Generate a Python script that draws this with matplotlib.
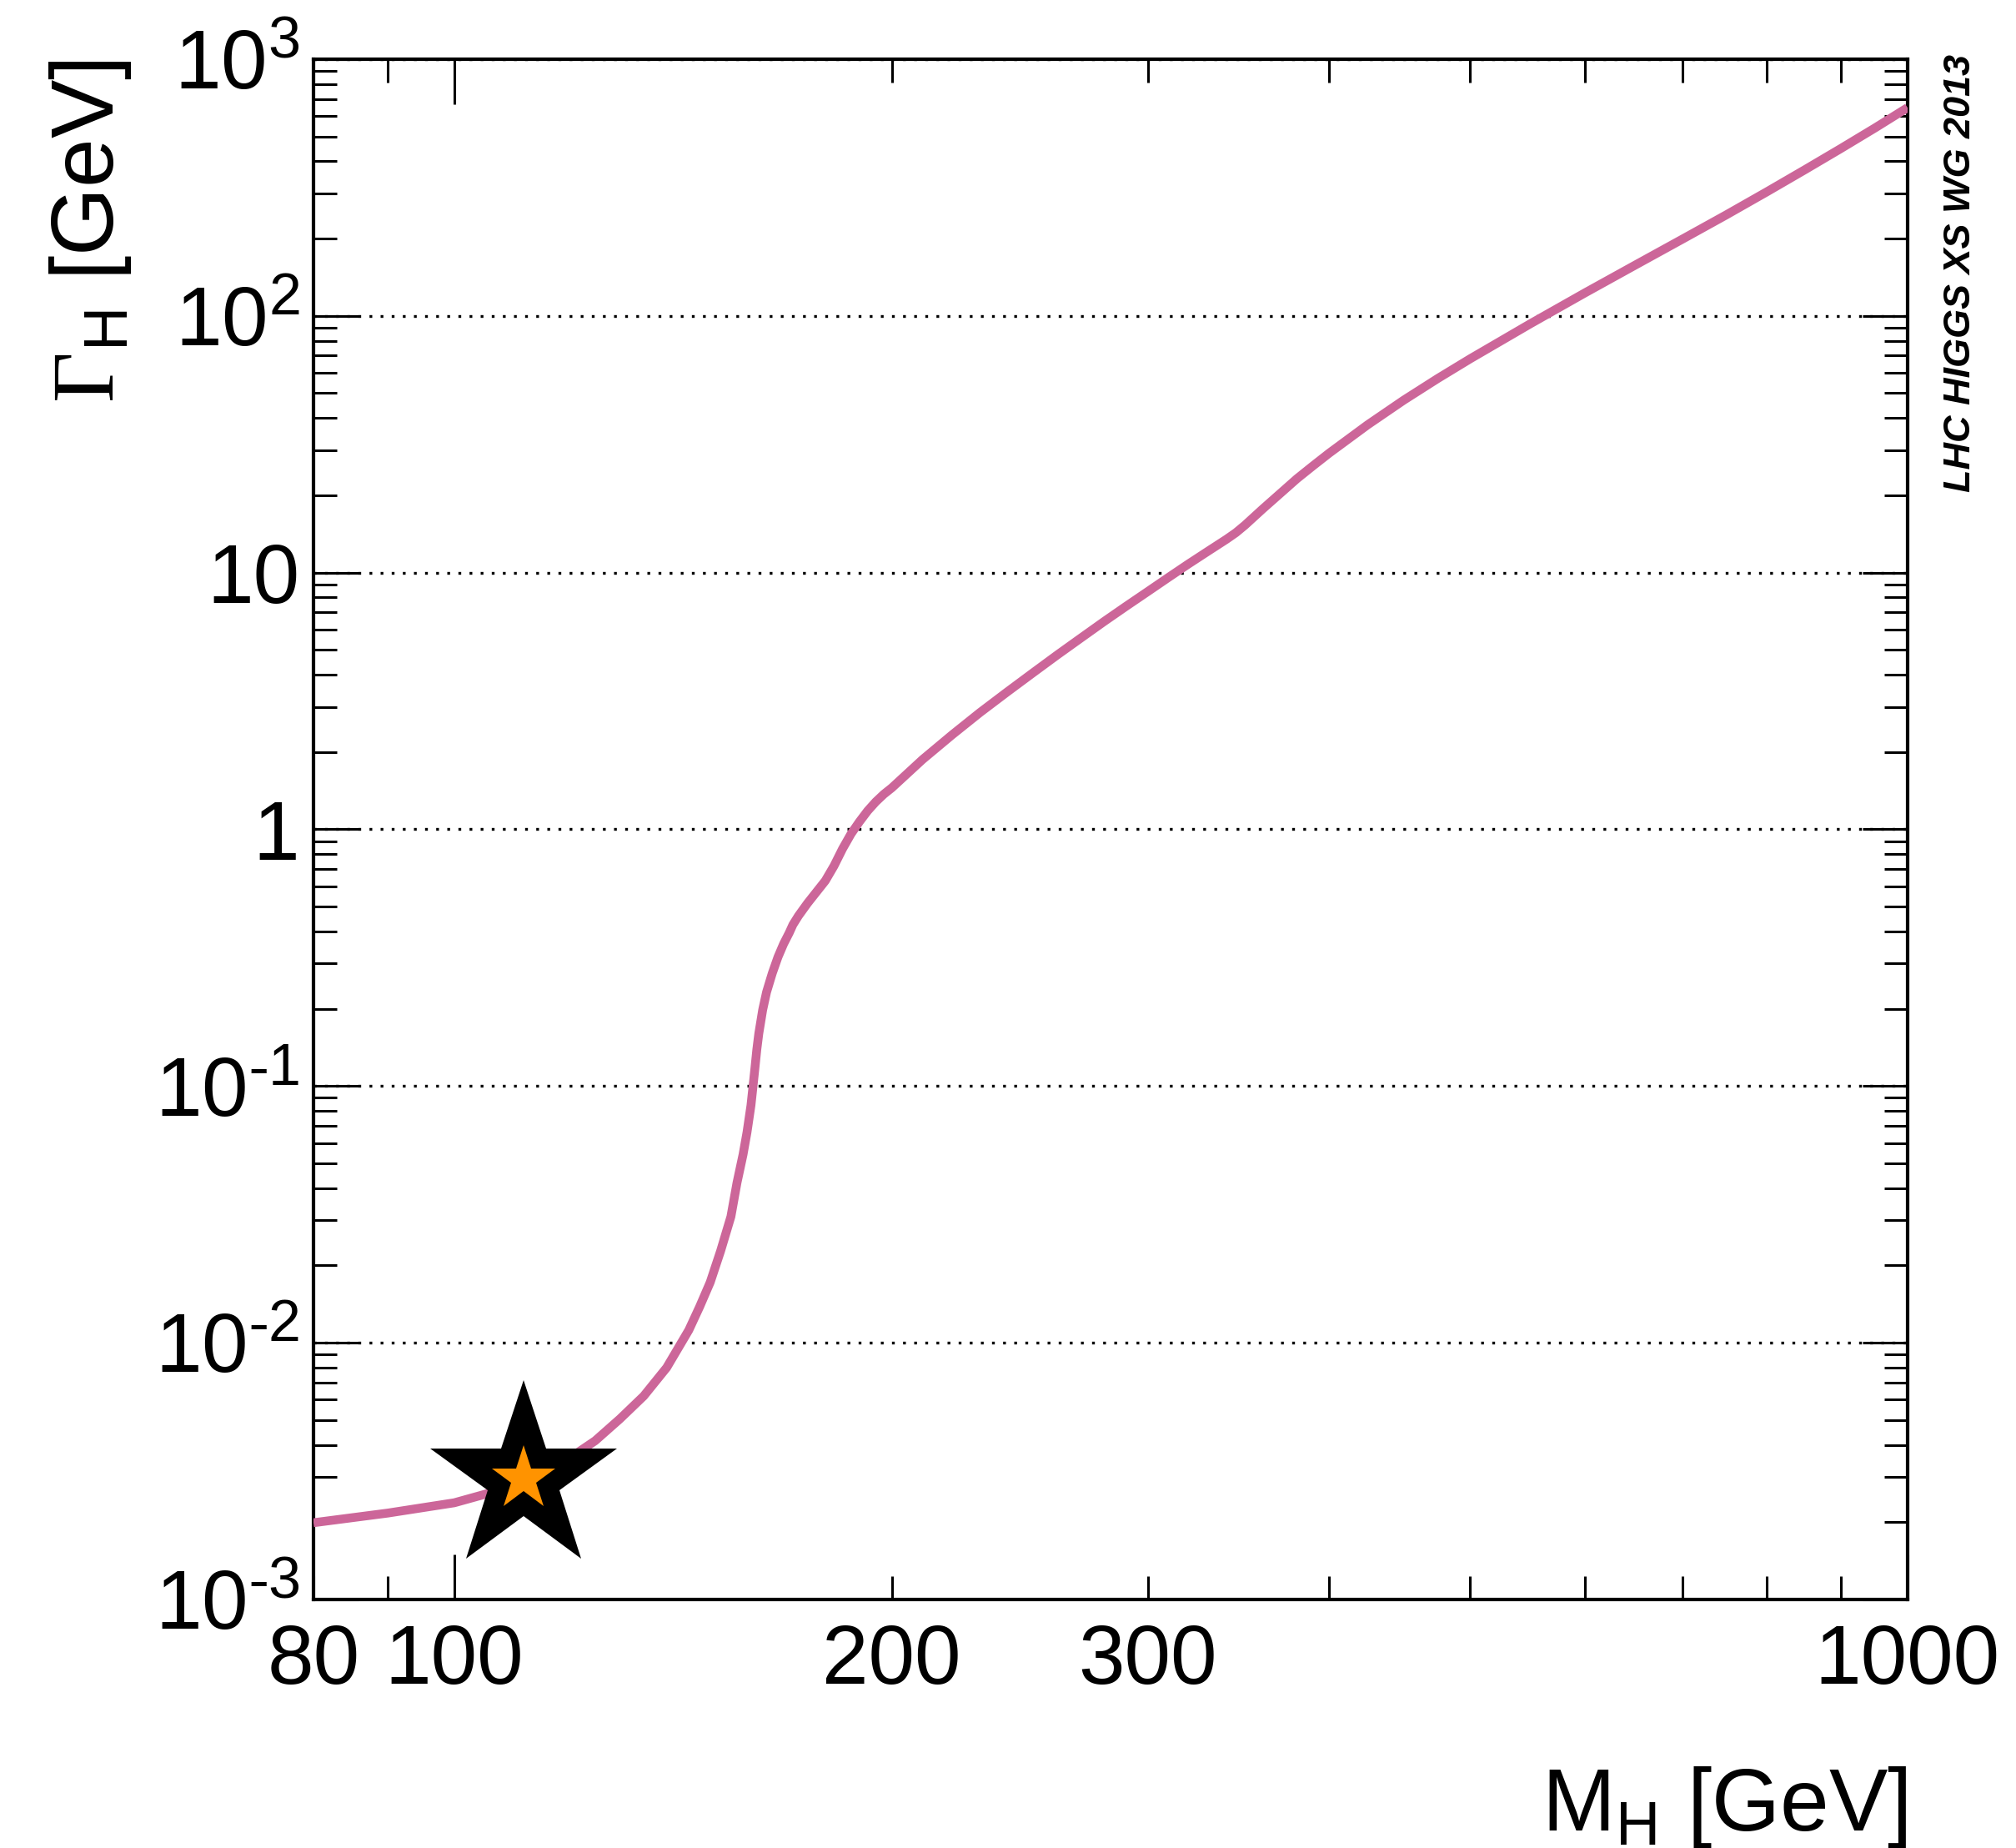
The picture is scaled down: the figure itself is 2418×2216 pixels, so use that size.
import numpy as np
import matplotlib.pyplot as plt
from matplotlib.ticker import FixedLocator, FixedFormatter, LogLocator, NullFormatter

plt.rcParams['font.family'] = ['Liberation Sans', 'DejaVu Sans']
plt.rcParams['mathtext.fontset'] = 'custom'
plt.rcParams['mathtext.rm'] = 'Liberation Serif'
plt.rcParams['mathtext.sf'] = 'Liberation Sans'

# total Higgs width vs mass
mass = [80, 90, 100, 105, 110, 115, 120, 125, 130, 135, 140, 145, 147.5, 150,
        152.5, 155, 156.5,
        158, 159, 160, 160.5, 161, 161.5, 162, 163, 164, 165, 165.5, 167, 168.5,
        170, 171, 172.5, 175, 177.5, 180, 182.5, 185, 187.5, 190, 192.5, 195,
        197.5, 200,
        210, 220, 230, 240, 250, 260, 270, 280, 290, 300, 310, 320, 330, 340,
        345, 350, 360, 370, 380, 390, 400, 425, 450, 475, 500, 550, 600, 650,
        700, 750, 800, 850, 900, 950, 1000]
width = [1.99e-3, 2.17e-3, 2.38e-3, 2.57e-3, 2.80e-3, 3.09e-3, 3.55e-3, 4.15e-3,
         5.05e-3, 6.2e-3, 8.0e-3, 1.12e-2, 1.38e-2, 1.72e-2,
         2.28e-2, 3.1e-2, 4.2e-2,
         5.4e-2, 6.6e-2, 8.4e-2, 0.099, 0.117, 0.139, 0.16, 0.198, 0.232, 0.26,
         0.275, 0.318, 0.358, 0.395, 0.425, 0.46, 0.515, 0.57, 0.63, 0.72, 0.84,
         0.96, 1.07, 1.18, 1.28, 1.37, 1.45,
         1.87, 2.33, 2.85, 3.42, 4.06, 4.78, 5.57, 6.45, 7.40, 8.43, 9.57, 10.8,
         12.1, 13.5, 14.3, 15.3, 17.7, 20.3, 23.2, 26.1, 29.2, 37.6, 46.9, 57.0,
         68.0, 93.1, 123, 158, 199, 247, 304, 371, 449, 540, 647]

star_mass = 111.6
star_width = 2.96e-3

y_ticks = [1e-3, 1e-2, 1e-1, 1, 10, 1e2, 1e3]
y_tick_labels = [r'$\mathsf{10^{\text{-}3}}$', r'$\mathsf{10^{\text{-}2}}$',
                 r'$\mathsf{10^{\text{-}1}}$', '1', '10',
                 r'$\mathsf{10^{2}}$', r'$\mathsf{10^{3}}$']
x_major = [100, 1000]
x_major_labels = ['100', '1000']
x_minor = [80, 90, 200, 300, 400, 500, 600, 700, 800, 900]
x_minor_labels = ['80', '', '200', '300', '', '', '', '', '', '']

fig = plt.figure(figsize=(12.09, 11.08), dpi=200)
ax = fig.add_axes([0.1555, 0.1345, 0.7907, 0.8335])

ax.plot(mass, width, color='#cc6699', lw=3.8, solid_joinstyle='round',
        solid_capstyle='butt', zorder=3)
ax.plot([star_mass], [star_width], marker='*', ms=85, color='black', mew=0, zorder=4)
ax.plot([star_mass], [star_width], marker='*', ms=29, color='#ff9300', mew=0, zorder=5)

ax.set_xscale('log')
ax.set_yscale('log')
ax.set_xlim(80, 1000)
ax.set_ylim(1e-3, 1e3)

ax.xaxis.set_major_locator(FixedLocator(x_major))
ax.xaxis.set_major_formatter(FixedFormatter(x_major_labels))
ax.xaxis.set_minor_locator(FixedLocator(x_minor))
ax.xaxis.set_minor_formatter(FixedFormatter(x_minor_labels))
ax.yaxis.set_major_locator(FixedLocator(y_ticks))
ax.yaxis.set_major_formatter(FixedFormatter(y_tick_labels))
ax.yaxis.set_minor_locator(LogLocator(base=10, subs=np.arange(2, 10)))
ax.yaxis.set_minor_formatter(NullFormatter())

ax.tick_params(which='both', direction='in', top=True, right=True, width=1.1)
ax.tick_params(which='major', length=19.5)
ax.tick_params(which='minor', length=10)
ax.tick_params(axis='x', which='both', labelsize=36, pad=10)
ax.tick_params(axis='y', which='both', labelsize=36, pad=6)
for s in ax.spines.values():
    s.set_linewidth(1.5)

ax.grid(axis='y', which='major', color='black', lw=1.2, linestyle=(0, (1, 3)))
ax.set_axisbelow(False)

ax.set_xlabel(r'M$_{\mathsf{H}}$ [GeV]', fontsize=38, loc='right')
ax.xaxis.set_label_coords(1.0, -0.107)
ax.set_ylabel(r'$\Gamma_{\mathsf{H}}$ [GeV]', fontsize=38, loc='top')
ax.yaxis.set_label_coords(-0.113, 1.0)

fig.text(0.981, 1 - 65 / 2216, 'LHC HIGGS XS WG 2013', rotation=90, ha='right', va='top',
         fontsize=16.2, fontweight='bold', fontstyle='italic')

fig.savefig('out.png', dpi=200)
